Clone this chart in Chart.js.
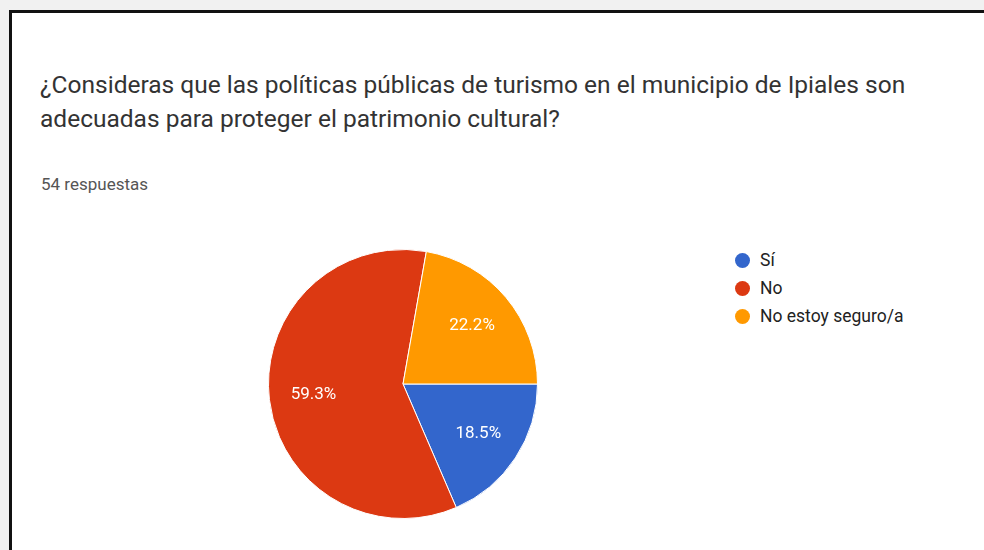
<!DOCTYPE html>
<html>
<head>
<meta charset="utf-8">
<script src="https://cdn.jsdelivr.net/npm/chart.js@4.4.0/dist/chart.umd.min.js"></script>
<style>
  html, body { margin:0; padding:0; width:984px; height:550px; overflow:hidden; background:#f1f1f1; font-family: Roboto, "Liberation Sans", sans-serif; position:relative; }
  #frame { position:absolute; left:9px; top:10px; right:0; bottom:0; border-left:3px solid #111; border-top:3px solid #111; background:#fff; }
  #title { position:absolute; left:40px; top:68px; font-size:24.5px; line-height:34px; color:#333; white-space:nowrap; }
  #sub { position:absolute; left:41px; top:174px; font-size:17px; color:#555; }
  #legend { position:absolute; left:735px; top:246px; }
  .li { height:28px; display:flex; align-items:center; font-size:17.5px; color:#222; }
  .dot { width:15px; height:15px; border-radius:50%; margin-right:10px; }
  #c { position:absolute; left:268px; top:249px; }
</style>
</head>
<body>
<div id="frame"></div>
<div id="title"></div>
<div id="sub"></div>
<div id="legend"></div>
<canvas id="c" width="270" height="270"></canvas>
<script>
const titleLines = [
  "¿Consideras que las políticas públicas de turismo en el municipio de Ipiales son",
  "adecuadas para proteger el patrimonio cultural?"
];
const subtitle = "54 respuestas";
const categories = ["Sí", "No", "No estoy seguro/a"];
const counts = [10, 32, 12];
const colors = ["#3366cc", "#dc3912", "#ff9900"];

document.getElementById('title').innerHTML = titleLines.join('<br>');
document.getElementById('sub').textContent = subtitle;
const leg = document.getElementById('legend');
categories.forEach((c, i) => {
  const d = document.createElement('div'); d.className = 'li';
  const dot = document.createElement('span'); dot.className = 'dot'; dot.style.background = colors[i];
  d.appendChild(dot); d.appendChild(document.createTextNode(c));
  leg.appendChild(d);
});

const pctLabels = {
  id: 'pctLabels',
  afterDatasetsDraw(chart) {
    const ctx = chart.ctx;
    const meta = chart.getDatasetMeta(0);
    const data = chart.data.datasets[0].data;
    const total = data.reduce((a, b) => a + b, 0);
    ctx.save();
    ctx.fillStyle = '#ffffff';
    ctx.font = '17px Roboto, "Liberation Sans", sans-serif';
    ctx.textAlign = 'center';
    ctx.textBaseline = 'middle';
    meta.data.forEach((arc, i) => {
      const p = arc.getProps(['x', 'y', 'startAngle', 'endAngle', 'outerRadius'], true);
      const a = (p.startAngle + p.endAngle) / 2;
      const r = p.outerRadius * 0.67;
      const txt = (data[i] / total * 100).toFixed(1) + '%';
      ctx.fillText(txt, p.x + Math.cos(a) * r, p.y + Math.sin(a) * r);
    });
    ctx.restore();
  }
};

new Chart(document.getElementById('c'), {
  type: 'pie',
  data: {
    labels: categories,
    datasets: [{ data: counts, backgroundColor: colors, borderColor: '#ffffff', borderWidth: 1 }]
  },
  options: {
    responsive: false,
    animation: false,
    rotation: 90,
    layout: { padding: 0 },
    plugins: { legend: { display: false }, tooltip: { enabled: false } }
  },
  plugins: [pctLabels]
});
</script>
</body>
</html>
